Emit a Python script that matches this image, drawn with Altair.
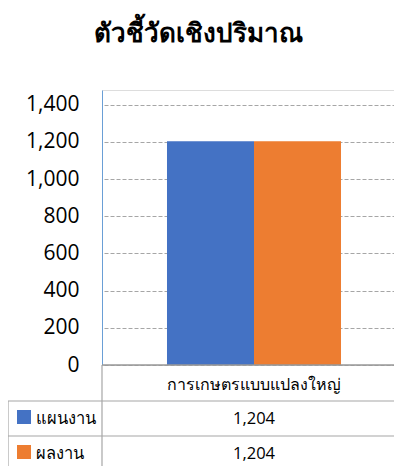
import altair as alt
import pandas as pd

title_text = "ตัวชี้วัดเชิงปริมาณ"
category = ["การเกษตรแบบแปลงใหญ่"]
series = ["แผนงาน", "ผลงาน"]
values = [1204, 1204]
colors = ["#4472C4", "#ED7D31"]
y_ticks = [0, 200, 400, 600, 800, 1000, 1200, 1400]

df = pd.DataFrame({
    "category": category * len(series),
    "series": series,
    "value": values,
})
df["label"] = df["value"].map(lambda v: f"{v:,}")

FONT = "Open Sans"
GRID = "#A6A6A6"
LINE = "#A6A6A6"
H = 275
W = 292

base = alt.Chart(df)
color_scale = alt.Scale(domain=series, range=colors)
x_enc = alt.X(
    "category:N",
    axis=None,
    scale=alt.Scale(range=[2, 302], paddingInner=0, paddingOuter=0.362),
)

bars = base.mark_bar().encode(
    x=x_enc,
    xOffset=alt.XOffset("series:N", sort=series,
                        scale=alt.Scale(paddingInner=0, paddingOuter=0)),
    y=alt.Y(
        "value:Q",
        scale=alt.Scale(domain=[0, 1479], nice=False),
        axis=alt.Axis(
            values=y_ticks, format=",d", title=None, ticks=False,
            labelPadding=23, labelFontSize=21, labelFont=FONT,
            labelColor="#000000", domainColor="#6A9FD6", domainWidth=1,
            gridDash=[4, 2], gridColor=GRID, gridWidth=1,
        ),
    ),
    color=alt.Color("series:N", scale=color_scale, legend=None),
)

cat_label = base.transform_filter(alt.datum.series == series[0]).mark_text(
    font=FONT, fontSize=16, color="#000000", baseline="middle", align="center"
).encode(x=x_enc, y=alt.value(H + 20), text="category:N")

row_y = [H + 54, H + 89]
swatch_y = [H + 52, H + 87]
layers = [bars, cat_label]
for i, s in enumerate(series):
    sub = base.transform_filter(alt.datum.series == s)
    layers.append(sub.mark_text(
        font=FONT, fontSize=16.5, color="#000000", baseline="middle", align="center"
    ).encode(x=x_enc, y=alt.value(row_y[i]), text="label:N"))
    layers.append(sub.mark_text(
        font=FONT, fontSize=16.5, color="#000000", baseline="middle", align="left"
    ).encode(x=alt.value(-66), y=alt.value(row_y[i]), text="series:N"))
    layers.append(sub.mark_square(size=196, opacity=1).encode(
        x=alt.value(-78), y=alt.value(swatch_y[i]),
        color=alt.Color("series:N", scale=color_scale, legend=None),
    ))

one = pd.DataFrame({"k": [0]})


def rule(x1, x2, y1, y2, color=LINE, w=1.2):
    return alt.Chart(one).mark_rule(color=color, strokeWidth=w).encode(
        x=alt.value(x1), x2=alt.value(x2), y=alt.value(y1), y2=alt.value(y2)
    )


layers += [
    rule(0, W, H, H, "#999999", 1.5),
    rule(-94, W, H + 36, H + 36),
    rule(-94, W, H + 71, H + 71),
    rule(0, 0, H, H + 101),
    rule(-94, -94, H + 36, H + 101),
]

chart = alt.layer(*layers).properties(
    width=W,
    height=H,
    autosize=alt.AutoSizeParams(type="none"),
    padding={"left": 94, "top": 82, "right": 0, "bottom": 101},
    title=alt.TitleParams(
        title_text, anchor="middle", dx=-50, offset=43,
        fontSize=26, font=FONT, fontWeight="bold", color="#000000",
    ),
).configure_view(stroke=None).configure(background="#FFFFFF")

chart.save("out.html", embed_options={"renderer": "svg", "actions": False})
